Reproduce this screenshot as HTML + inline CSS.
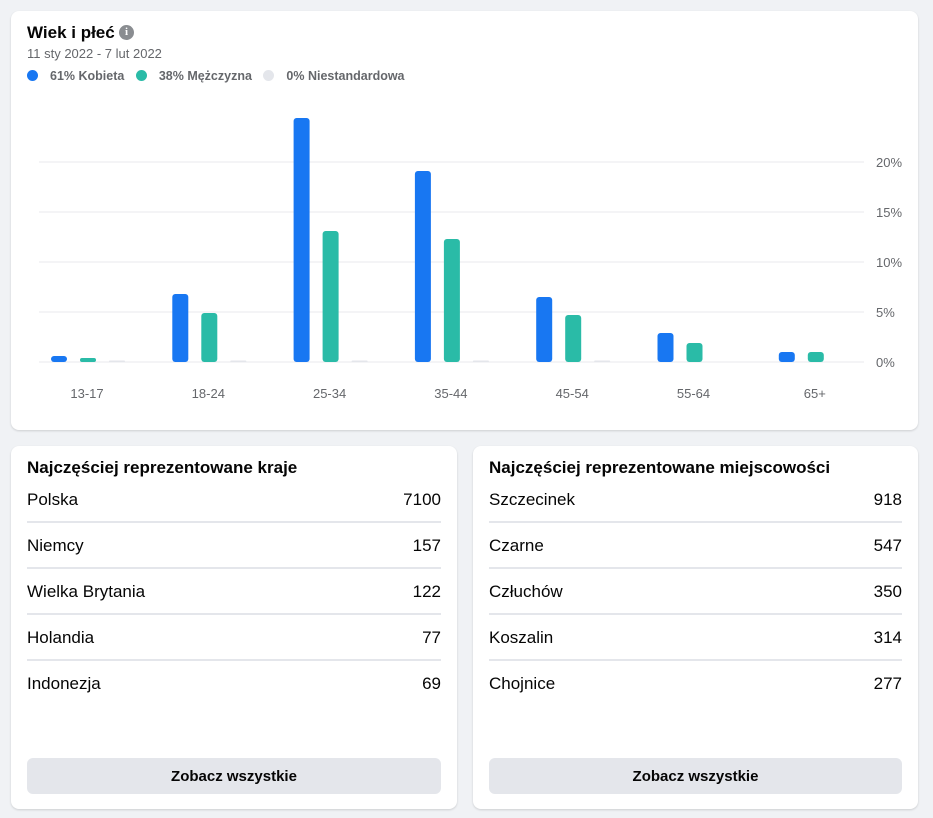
<!DOCTYPE html>
<html><head><meta charset="utf-8"><style>
*{box-sizing:border-box;margin:0;padding:0}
body{width:933px;height:818px;background:#f0f2f5;font-family:"Liberation Sans",sans-serif;position:relative;overflow:hidden;color:#050505}
.card{position:absolute;background:#fff;border-radius:8px;box-shadow:0 1px 2px rgba(0,0,0,.15)}
.t{position:absolute;white-space:nowrap}
.row{position:absolute;left:16px;right:16px;height:46px;font-size:17px}
.row span{position:absolute;top:0}
.row i{position:absolute;left:0;right:0;top:31px;height:2px;background:#e4e6eb}
.btn{position:absolute;left:16px;right:16px;top:312px;height:36px;background:#e4e6eb;border-radius:6px;font-size:15px;font-weight:bold;text-align:center;line-height:38px;color:#050505}
</style></head><body>
<div class="card" style="left:11px;top:11px;width:907px;height:419px">
 <div class="t" style="left:16px;top:12px;font-size:17px;font-weight:bold">Wiek i płeć</div>
 <div class="t" style="left:108px;top:14px;width:15px;height:15px;border-radius:50%;background:#8a8d91;color:#fff;font-size:11px;font-weight:bold;text-align:center;line-height:15px;font-family:'Liberation Serif',serif">i</div>
 <div class="t" style="left:16px;top:35px;font-size:13px;color:#65676b">11 sty 2022 - 7 lut 2022</div>
 <div class="t" style="left:16px;top:58px;font-size:12.5px;color:#65676b;font-weight:bold">
  <span><span style="display:inline-block;width:11px;height:11px;border-radius:50%;background:#1877f2;vertical-align:-1px;margin-right:12px"></span>61% Kobieta</span>
  <span style="margin-left:8px"><span style="display:inline-block;width:11px;height:11px;border-radius:50%;background:#2abba7;vertical-align:-1px;margin-right:12px"></span>38% Mężczyzna</span>
  <span style="margin-left:8px"><span style="display:inline-block;width:11px;height:11px;border-radius:50%;background:#e4e6eb;vertical-align:-1px;margin-right:12px"></span>0% Niestandardowa</span>
 </div>
 <svg id="chart" width="907" height="419" style="position:absolute;left:0;top:0"></svg>
</div>
<div class="card" style="left:11px;top:446px;width:446px;height:363px">
 <div class="t" style="left:16px;top:12px;font-size:17px;font-weight:bold">Najczęściej reprezentowane kraje</div>
 <div class="row" style="top:44px"><span style="left:0">Polska</span><span style="right:0">7100</span><i></i></div>
 <div class="row" style="top:90px"><span style="left:0">Niemcy</span><span style="right:0">157</span><i></i></div>
 <div class="row" style="top:136px"><span style="left:0">Wielka Brytania</span><span style="right:0">122</span><i></i></div>
 <div class="row" style="top:182px"><span style="left:0">Holandia</span><span style="right:0">77</span><i></i></div>
 <div class="row" style="top:228px"><span style="left:0">Indonezja</span><span style="right:0">69</span></div>
 <div class="btn">Zobacz wszystkie</div>
</div>
<div class="card" style="left:473px;top:446px;width:445px;height:363px">
 <div class="t" style="left:16px;top:12px;font-size:17px;font-weight:bold">Najczęściej reprezentowane miejscowości</div>
 <div class="row" style="top:44px"><span style="left:0">Szczecinek</span><span style="right:0">918</span><i></i></div>
 <div class="row" style="top:90px"><span style="left:0">Czarne</span><span style="right:0">547</span><i></i></div>
 <div class="row" style="top:136px"><span style="left:0">Człuchów</span><span style="right:0">350</span><i></i></div>
 <div class="row" style="top:182px"><span style="left:0">Koszalin</span><span style="right:0">314</span><i></i></div>
 <div class="row" style="top:228px"><span style="left:0">Chojnice</span><span style="right:0">277</span></div>
 <div class="btn">Zobacz wszystkie</div>
</div>
<script>
const categories=["13-17","18-24","25-34","35-44","45-54","55-64","65+"];
const female=[0.6,6.8,24.4,19.1,6.5,2.9,1.0];
const male=[0.4,4.9,13.1,12.3,4.7,1.9,1.0];
const custom=[0.05,0.05,0.15,0.15,0.05,0,0];
const yTicks=[0,5,10,15,20];
const yTickLabels=["0%","5%","10%","15%","20%"];
const svg=document.getElementById('chart');
const NS='http://www.w3.org/2000/svg';
const y0=351,pxPer=10;
function y(v){return y0-v*pxPer;}
function xc(i){return 76+i*121.3;}
function mk(tag,a){const e=document.createElementNS(NS,tag);for(const k in a)e.setAttribute(k,a[k]);svg.appendChild(e);return e;}
yTicks.forEach((t,i)=>{
 const l=mk('line',{x1:28,x2:853,y1:y(t),y2:y(t),stroke:'#e9eaee','stroke-width':1});
 
 
 const tx=mk('text',{x:865,y:y(t)+5,'font-size':13,fill:'#65676b','font-family':'Liberation Sans, sans-serif'});
 tx.textContent=yTickLabels[i];
 
 
});
const series=[[female,'#1877f2',-28],[male,'#2abba7',1],[custom,'#e4e6eb',30]];
categories.forEach((c,i)=>{
 series.forEach(([arr,col,off])=>{
  const v=arr[i];if(v<=0)return;
  const h=Math.max(v*pxPer,1.5);
  const r=mk('rect',{x:xc(i)+off-8,y:y0-h,width:16,height:h,rx:Math.min(3,h/2),fill:col});
  
  
 });
 const tx=mk('text',{x:xc(i),y:387,'font-size':13,fill:'#65676b','text-anchor':'middle','font-family':'Liberation Sans, sans-serif'});
 tx.textContent=c;
 
 
});
</script>
</body></html>
